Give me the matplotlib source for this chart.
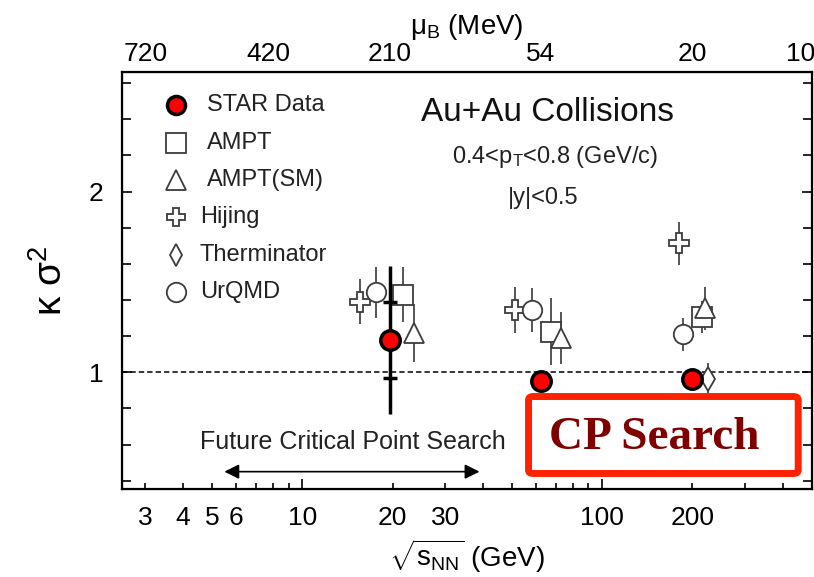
import numpy as np
import matplotlib
matplotlib.use("Agg")
import matplotlib.pyplot as plt
from matplotlib.ticker import FixedLocator, LogLocator, FuncFormatter, NullFormatter
from matplotlib.patches import FancyBboxPatch

plt.rcParams['font.family'] = ['Liberation Sans', 'DejaVu Sans']
plt.rcParams['mathtext.fontset'] = 'custom'
plt.rcParams['mathtext.rm'] = 'Liberation Sans'
plt.rcParams['mathtext.it'] = 'Liberation Sans:italic'
plt.rcParams['mathtext.sf'] = 'Liberation Sans'

# STAR data
star_e = [19.6, 62.4, 200]
star_k = [1.18, 0.95, 0.96]
star_stat = [0.41, 0.03, 0.02]
star_sys = [0.21, 0.0, 0.0]

# model calculations (energies slightly shifted for visibility, as in the figure)
ampt_e = [21.7, 67.3, 215]
ampt_k = [1.43, 1.225, 1.305]
ampt_err = [0.15, 0.185, 0.09]

amptsm_e = [23.5, 72.7, 221]
amptsm_k = [1.216, 1.188, 1.354]
amptsm_err = [0.16, 0.145, 0.12]

hijing_e = [15.6, 51.4, 180]
hijing_k = [1.391, 1.345, 1.714]
hijing_err = [0.125, 0.125, 0.12]

therm_e = [226]
therm_k = [0.961]
therm_err = [0.09]

urqmd_e = [17.6, 58.4, 186]
urqmd_k = [1.443, 1.345, 1.21]
urqmd_err = [0.14, 0.12, 0.093]

# top axis: baryon chemical potential
mub_e = [3, 7.7, 19.6, 62.4, 200, 460]
mub_labels = ['720', '420', '210', '54', '20', '10']

bottom_labels = [3, 4, 5, 6, 10, 20, 30, 100, 200]
cp_range = [5.5, 39]

fig = plt.figure(figsize=(8.14, 5.77), dpi=100)
ax = fig.add_axes([0.1495, 0.1525, 0.8477, 0.7232])
ax.set_xscale('log')
ax.set_xlim(2.5, 500)
ax.set_ylim(0.354, 2.663)

ax.axhline(1.0, color='black', lw=1.1, ls=(0, (3.5, 2)), zorder=1)

ecol = '#3c3c3c'
def model(e, k, err, marker, ms):
   ax.errorbar(e, k, yerr=err, fmt='none', ecolor='#555555', elinewidth=1.4, zorder=2)
   ax.plot(e, k, ls='none', marker=marker, ms=ms, mfc='white', mec=ecol, mew=1.3, zorder=3)

model(hijing_e, hijing_k, hijing_err, 'P', 14)
model(urqmd_e, urqmd_k, urqmd_err, 'o', 14)
model(ampt_e, ampt_k, ampt_err, 's', 14)
model(amptsm_e, amptsm_k, amptsm_err, '^', 15)
model(therm_e, therm_k, therm_err, 'd', 12)

ax.errorbar(star_e, star_k, yerr=star_stat, fmt='none', ecolor='black', elinewidth=2.5, zorder=4)
ax.errorbar(star_e, star_k, yerr=star_sys, fmt='none', ecolor='black', elinewidth=0,
            capsize=5, capthick=2.5, zorder=4)
ax.plot(star_e, star_k, ls='none', marker='o', ms=14, mfc='#ff0000', mec='black', mew=2.5, zorder=5)

# ticks
for s in ax.spines.values():
   s.set_linewidth(1.6)
ax.xaxis.set_major_locator(FixedLocator([10, 100]))
ax.xaxis.set_minor_locator(LogLocator(base=10, subs=np.arange(2, 10)))
ax.xaxis.set_major_formatter(FuncFormatter(lambda v, p: '%g' % v))
ax.xaxis.set_minor_formatter(FuncFormatter(lambda v, p: '%g' % v if round(v) in bottom_labels else ''))
ax.yaxis.set_major_locator(FixedLocator([1, 2]))
ax.yaxis.set_minor_locator(FixedLocator(np.arange(0.4, 2.7, 0.2)))
ax.tick_params(which='both', direction='in', top=True, right=True, labelsize=19, width=1.2)
ax.tick_params(axis='x', which='major', length=7.5, pad=12)
ax.tick_params(axis='x', which='minor', length=4.5, pad=12)
ax.tick_params(axis='y', which='major', length=7.5, pad=13)
ax.tick_params(axis='y', which='minor', length=6.5, pad=13)

ax2 = ax.twiny()
ax2.set_xscale('log')
ax2.set_xlim(ax.get_xlim())
ax2.xaxis.set_major_locator(FixedLocator(mub_e))
ax2.xaxis.set_major_formatter(FuncFormatter(lambda v, p: mub_labels[p] if p is not None and p < len(mub_labels) else ''))
ax2.set_xticklabels(mub_labels)
ax2.xaxis.set_minor_formatter(NullFormatter())
ax2.tick_params(which='both', length=0, labelsize=19, pad=4)
ax2.set_xlabel(r'$\mathrm{\mu_B}$ (MeV)', fontsize=20, labelpad=6)

ax.set_xlabel(r'$\sqrt{\mathrm{s_{NN}}}$ (GeV)', fontsize=20, labelpad=6)
ax.set_ylabel('κ σ$^2$', fontsize=28, labelpad=14)

# legend drawn by hand
leg = [('o', 'STAR Data', 14, 0.1495 * 0 + 0, 'STAR'),
       ('s', 'AMPT', 14, 0, ''),
       ('^', 'AMPT(SM)', 14, 0, ''),
       ('P', 'Hijing', 13, 0, ''),
       ('d', 'Therminator', 11, 0, ''),
       ('o', 'UrQMD', 14, 0, '')]
leg_y = [105, 143, 180, 217, 255, 292]
for (m, lab, ms, _, tag), py in zip(leg, leg_y):
   yax = (489 - py) / 417.3
   if tag == 'STAR':
      ax.plot([(176 - 121.7) / 690], [yax], transform=ax.transAxes, marker='o', ms=13,
              mfc='#ff0000', mec='black', mew=2.5, clip_on=False)
   else:
      ax.plot([(176 - 121.7) / 690], [yax], transform=ax.transAxes, marker=m, ms=ms,
              mfc='white', mec=ecol, mew=1.3, clip_on=False)
   tx = 207 if lab in ('STAR Data', 'AMPT', 'AMPT(SM)') else 200
   ax.text((tx - 121.7) / 690, yax, lab, transform=ax.transAxes, fontsize=17,
           va='center', ha='left', color='#222222')

ax.text((421 - 121.7) / 690, (489 - 112) / 417.3, 'Au+Au Collisions', transform=ax.transAxes,
        fontsize=24, va='center', ha='left', color='#111111')
ax.text((555 - 121.7) / 690, (489 - 157) / 417.3, '0.4<p$_{\\rm T}$<0.8 (GeV/c)', transform=ax.transAxes,
        fontsize=17, va='center', ha='center', color='#222222')
ax.text((543 - 121.7) / 690, (489 - 198) / 417.3, '|y|<0.5', transform=ax.transAxes,
        fontsize=17, va='center', ha='center', color='#222222')

ax.text(14.8, 0.616, 'Future Critical Point Search', fontsize=18, ha='center', va='center', color='#222222')
ax.annotate('', xy=(cp_range[0], 0.45), xytext=(cp_range[1], 0.45),
            arrowprops=dict(arrowstyle='<|-|>', color='black', lw=1.2,
                            mutation_scale=22, shrinkA=0, shrinkB=0))

# red "CP Search" overlay box
box = FancyBboxPatch((0.6493, 0.1794), 0.3313, 0.1334, boxstyle='round,pad=0,rounding_size=0.006',
                     transform=fig.transFigure, facecolor='white', edgecolor='#ff2200', lw=5, zorder=10)
fig.patches.append(box)
fig.text(0.8034, 0.2409, 'CP Search', fontsize=34, fontweight='bold', family='Liberation Serif',
         color='#800000', ha='center', va='center', zorder=11)

fig.savefig('out.png', dpi=100)
